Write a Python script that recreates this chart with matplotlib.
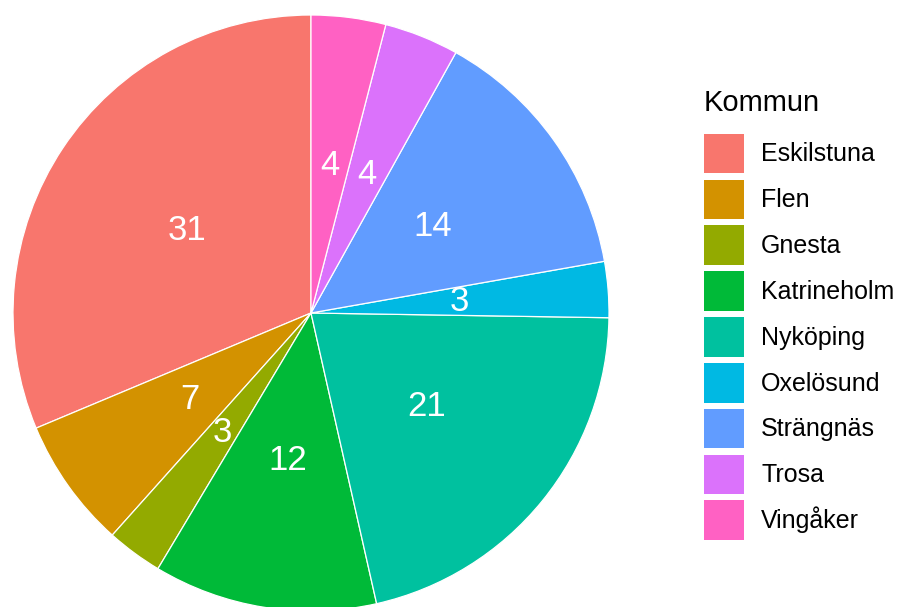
import matplotlib
matplotlib.use("Agg")
import matplotlib.pyplot as plt
from matplotlib.patches import Patch

kommuner = ["Eskilstuna", "Flen", "Gnesta", "Katrineholm", "Nyköping",
            "Oxelösund", "Strängnäs", "Trosa", "Vingåker"]
antal = [31, 7, 3, 12, 21, 3, 14, 4, 4]
farger = ["#F8766D", "#D39200", "#93AA00", "#00BA38", "#00C19F",
          "#00B9E3", "#619CFF", "#DB72FB", "#FF61C3"]

plt.rcParams["font.family"] = ["Liberation Sans", "DejaVu Sans"]

W, H = 900, 607
fig = plt.figure(figsize=(W / 100, H / 100), dpi=100)
cx, cy, r = 311, 313, 298
ax = fig.add_axes([(cx - r) / W, (H - cy - r) / H, 2 * r / W, 2 * r / H])

total = sum(antal)
wedges, texts, autotexts = ax.pie(
    antal, colors=farger, startangle=90, counterclock=True,
    radius=1, pctdistance=0.5,
    autopct=lambda p: f"{round(p * total / 100)}",
    wedgeprops=dict(edgecolor="white", linewidth=0.9),
    textprops=dict(color="white", fontsize=25),
)
ax.set_xlim(-1, 1)
ax.set_ylim(-1, 1)
ax.set_aspect("equal")
ax.axis("off")

handles = [Patch(facecolor=c, edgecolor="none") for c in farger]
leg = fig.legend(handles, kommuner, title="Kommun",
                 loc="upper left", bbox_to_anchor=(704 / W, 1 - 89 / H),
                 frameon=False, fontsize=18, title_fontsize=21,
                 handlelength=1.6, handleheight=2.06, labelspacing=0.25,
                 handletextpad=0.68, borderpad=0, borderaxespad=0)
leg._legend_box.align = "left"
leg._legend_box.sep = 12

fig.savefig("out.png", dpi=100, facecolor="white")
